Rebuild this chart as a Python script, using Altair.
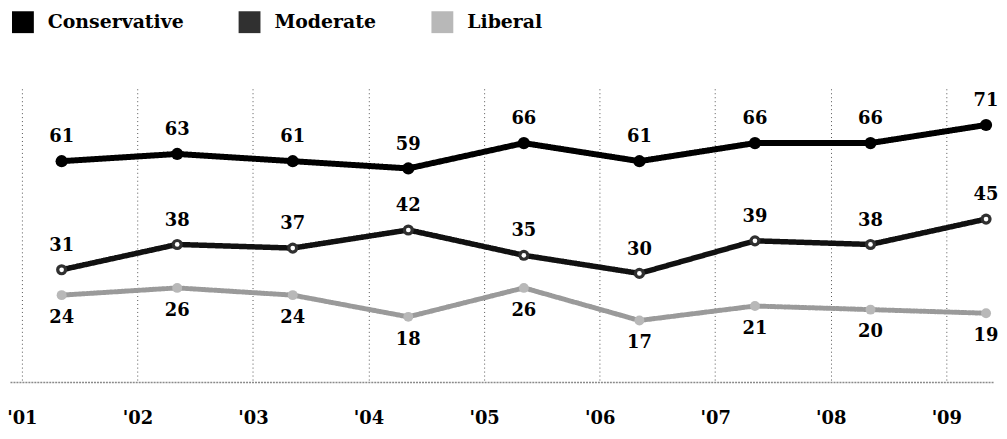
import json
import altair as alt
import pandas as pd

years = [2001, 2002, 2003, 2004, 2005, 2006, 2007, 2008, 2009]
tick_labels = ["'01", "'02", "'03", "'04", "'05", "'06", "'07", "'08", "'09"]
series = ["Conservative", "Moderate", "Liberal"]
conservative = [61, 63, 61, 59, 66, 61, 66, 66, 71]
moderate = [31, 38, 37, 42, 35, 30, 39, 38, 45]
liberal = [24, 26, 24, 18, 26, 17, 21, 20, 19]

rows = []
for name, vals in zip(series, [conservative, moderate, liberal]):
    for yr, v in zip(years, vals):
        rows.append({"year": yr, "series": name, "value": v})
df = pd.DataFrame(rows)

FONT = "DejaVu Serif"
legend_colors = ["#000000", "#303030", "#b8b8b8"]
line_colors = ["#000000", "#111111", "#9a9a9a"]

base = alt.Chart(df).transform_calculate(
    t="datum.year + 0.344"  # polls taken in spring of each year
)

label_expr = json.dumps(tick_labels) + "[datum.value - 2001]"

x_enc = alt.X(
    "t:Q",
    scale=alt.Scale(domain=[2000.897, 2009.413], nice=False, zero=False),
    axis=alt.Axis(
        values=years, labelExpr=label_expr, title=None,
        grid=True, gridDash=[1, 3], gridColor="#555", gridWidth=1,
        ticks=False, tickSize=0,
        domain=True, domainColor="#8a8a8a", domainDash=[2, 1], domainWidth=1.5,
        labelFont=FONT, labelFontSize=18, labelFontWeight="bold",
        labelColor="#000", labelPadding=28,
    ),
)
y_enc = alt.Y("value:Q", scale=alt.Scale(domain=[0, 81], nice=False), axis=None)

lines = base.mark_line(strokeCap="round", strokeJoin="round").encode(
    x=x_enc, y=y_enc,
    stroke=alt.Stroke("series:N", sort=series, scale=alt.Scale(range=line_colors), legend=None),
    strokeWidth=alt.StrokeWidth("series:N", sort=series, scale=alt.Scale(range=[6, 5, 2.5]), legend=None),
    strokeDash=alt.StrokeDash("series:N", sort=series, scale=alt.Scale(range=[[1, 0], [1, 0], [2, 1.5]]), legend=None),
    order=alt.Order("t:Q"),
)

points = base.mark_point(filled=True, shape="circle", opacity=1).encode(
    x=x_enc, y=y_enc,
    fill=alt.Fill(
        "series:N", scale=alt.Scale(domain=series, range=legend_colors),
        legend=alt.Legend(
            orient="none", legendX=2, legendY=-78, direction="horizontal",
            title=None, symbolType="square", symbolSize=484, symbolStrokeWidth=0,
            symbolOpacity=1, labelFont=FONT, labelFontSize=19, labelFontWeight="bold",
            labelColor="#000", columnPadding=55, labelOffset=14, padding=0, offset=0,
        ),
    ),
    size=alt.Size("series:N", sort=series, scale=alt.Scale(range=[150, 100, 12]), legend=None),
)

holes = base.transform_filter(alt.datum.series == "Moderate").mark_point(
    filled=True, shape="circle", color="white", size=22, opacity=1
).encode(x=x_enc, y=y_enc)

labels_above = base.transform_filter(alt.datum.series != "Liberal").mark_text(
    dy=-24, font=FONT, fontSize=18, fontWeight="bold", color="#000"
).encode(x=x_enc, y=y_enc, text="value:Q")

labels_below = base.transform_filter(alt.datum.series == "Liberal").mark_text(
    dy=23, font=FONT, fontSize=18, fontWeight="bold", color="#000"
).encode(x=x_enc, y=y_enc, text="value:Q")

chart = alt.layer(lines, points, holes, labels_above, labels_below).properties(
    width=990, height=295,
    autosize=alt.AutoSizeParams(type="none"),
    padding={"left": 2, "top": 80, "right": 5, "bottom": 48},
    background="white",
).configure_view(stroke=None)

chart.save("out.html", embed_options={"renderer": "svg", "actions": False})
